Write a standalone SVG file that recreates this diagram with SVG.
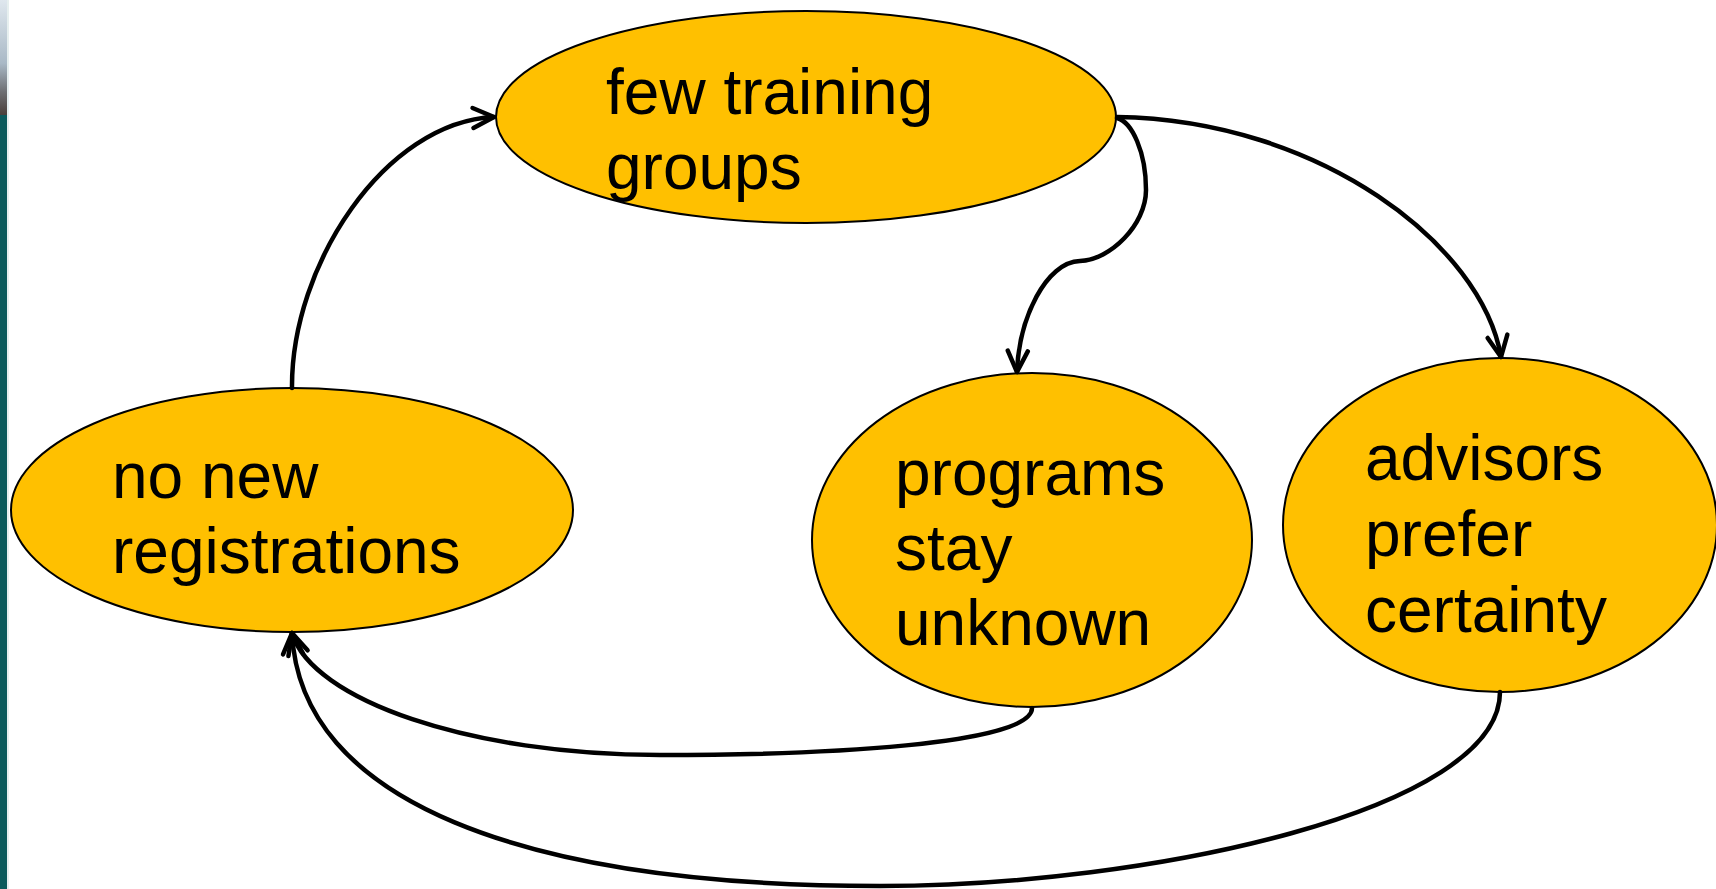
<svg xmlns="http://www.w3.org/2000/svg" width="1716" height="889" viewBox="0 0 1716 889">
  <defs>
    <style>
      .node { fill: #FFC000; stroke: #000; stroke-width: 2; }
      .label { font-family: "Liberation Sans", Arial, sans-serif; font-size: 64px; fill: #000; }
      .conn { fill: none; stroke: #000; stroke-width: 4.5; stroke-linecap: round; }
      .arrow { marker-end: url(#arrowhead); }
    </style>
    <marker id="arrowhead" markerUnits="userSpaceOnUse" viewBox="-26 -14 30 28" refX="0" refY="0" markerWidth="30" markerHeight="28" orient="auto" overflow="visible">
      <path d="M-21,-10 L0,0 L-21,10" fill="none" stroke="#000" stroke-width="4.5" stroke-linecap="round" stroke-linejoin="round"/>
    </marker>
    <linearGradient id="photo" x1="0" y1="0" x2="0" y2="1">
      <stop offset="0" stop-color="#dfe7ee"/>
      <stop offset="0.55" stop-color="#a9b9c6"/>
      <stop offset="0.8" stop-color="#6d6f72"/>
      <stop offset="1" stop-color="#4a3f3a"/>
    </linearGradient>
  </defs>

  <rect x="0" y="0" width="1716" height="889" fill="#ffffff"/>
  <g id="left-strip">
    <rect x="0" y="0" width="7" height="889" fill="#0b5a5c"/>
    <rect x="0" y="0" width="7" height="115" fill="url(#photo)"/>
    <rect x="7" y="0" width="2" height="889" fill="#e6efef"/>
  </g>

  <g id="node-few-training-groups">
    <ellipse class="node" cx="806" cy="117" rx="310" ry="106"/>
    <text class="label" x="606" y="114">few training</text>
    <text class="label" x="606" y="189">groups</text>
  </g>

  <g id="node-no-new-registrations">
    <ellipse class="node" cx="292" cy="510" rx="281" ry="122"/>
    <text class="label" x="112" y="498">no new</text>
    <text class="label" x="112" y="573">registrations</text>
  </g>

  <g id="node-programs-stay-unknown">
    <ellipse class="node" cx="1032" cy="540" rx="220" ry="167"/>
    <text class="label" x="895" y="495">programs</text>
    <text class="label" x="895" y="570">stay</text>
    <text class="label" x="895" y="645">unknown</text>
  </g>

  <g id="node-advisors-prefer-certainty">
    <ellipse class="node" cx="1500" cy="525" rx="217" ry="167"/>
    <text class="label" x="1365" y="480">advisors</text>
    <text class="label" x="1365" y="556">prefer</text>
    <text class="label" x="1365" y="632">certainty</text>
  </g>

  <g id="connectors">
    <path class="conn arrow" d="M292,388 C291,265 385,122 494,117"/>
    <path class="conn arrow" d="M1117,118 C1132,122 1146,152 1146,190 C1146,225 1110,260 1080,261 C1046,262 1019,318 1017,372"/>
    <path class="conn arrow" d="M1117,117 C1320,120 1482,245 1501,357"/>
    <path class="conn arrow" d="M1032,708 C1032,745 820,755 660,755 C470,755 312,700 292,633"/>
    <path class="conn arrow" d="M1500,692 C1500,810 1150,886 880,886 C520,886 300,800 292,633"/>
  </g>
</svg>
